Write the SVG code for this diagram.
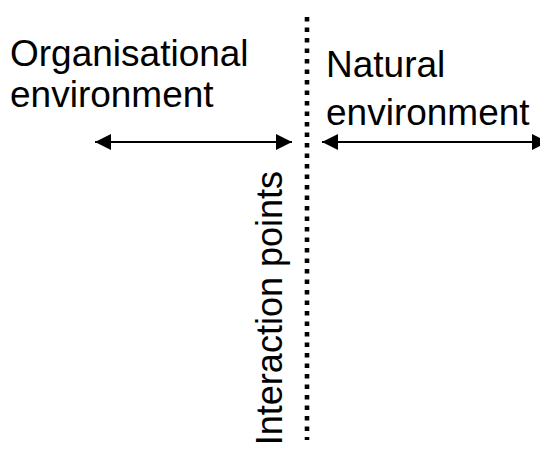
<svg xmlns="http://www.w3.org/2000/svg" width="540" height="450" viewBox="0 0 540 450">
<style>
text{font-family:"Liberation Sans",Arial,sans-serif;font-size:37px;fill:#000}
.vertical{font-size:36px}
.arrow{stroke:#000;stroke-width:2;fill:none}
.divider{stroke:#000;stroke-width:4.6;stroke-dasharray:4.6 5.9}
</style>
<defs>
<marker id="head" viewBox="0 0 16 16" refX="16" refY="8" markerWidth="16" markerHeight="16" markerUnits="userSpaceOnUse" orient="auto-start-reverse">
<path d="M0,0 L16,8 L0,16 Z" fill="#000"/>
</marker>
</defs>
<rect width="540" height="450" fill="#fff"/>
<g id="organisational">
<text x="10" y="66">Organisational</text>
<text x="10" y="107">environment</text>
</g>
<g id="natural">
<text x="326" y="77">Natural</text>
<text x="326" y="125">environment</text>
</g>
<g id="interaction">
<text class="vertical" transform="translate(282,171) rotate(-90)" text-anchor="end">Interaction points</text>
</g>
<g id="connectors">
<line class="divider" x1="307" y1="17" x2="307" y2="440"/>
<line class="arrow" x1="95" y1="142" x2="292" y2="142" marker-start="url(#head)" marker-end="url(#head)"/>
<line class="arrow" x1="322" y1="142" x2="548" y2="142" marker-start="url(#head)" marker-end="url(#head)"/>
</g>
</svg>
